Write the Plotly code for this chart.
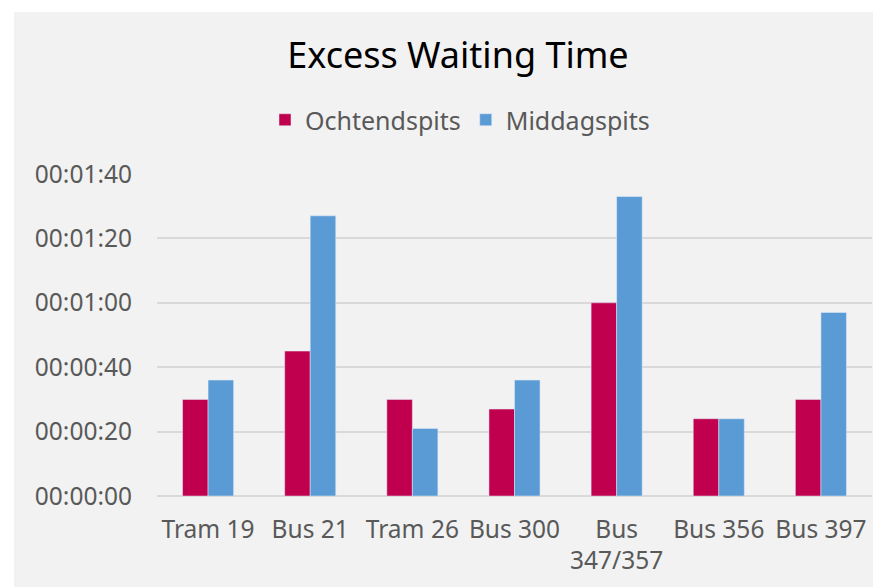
import plotly.graph_objects as go

# routes and excess waiting time in seconds
routes = ["Tram 19", "Bus 21", "Tram 26", "Bus 300", "Bus<br>347/357", "Bus 356", "Bus 397"]
ochtendspits = [30, 45, 30, 27, 60, 24, 30]
middagspits = [36, 87, 21, 36, 93, 24, 57]

tick_vals = [0, 20, 40, 60, 80, 100]
tick_text = ["00:00:00", "00:00:20", "00:00:40", "00:01:00", "00:01:20", "00:01:40"]

FONT = "Noto Sans"
GREY = "#595959"

fig = go.Figure()
fig.add_trace(go.Bar(x=routes, y=ochtendspits, name="Ochtendspits", marker_color="#C0004F"))
fig.add_trace(go.Bar(x=routes, y=middagspits, name="Middagspits", marker_color="#5B9BD5"))

# page body adds an 8px offset, so layout pixels are measured in figure space
W, H = 881, 587
L, R, T, B = 149, 17, 166, 99
pw, ph = W - L - R, H - T - B


def px_x(p):
    return (p - L) / pw


def px_y(p):
    return (H - B - p) / ph


# white strips at top and left, as in the exported chart image
fig.add_shape(type="rect", xref="paper", yref="paper", x0=px_x(-5), x1=px_x(W + 5),
              y0=px_y(4), y1=px_y(-5), fillcolor="white", line_width=0, layer="below")
fig.add_shape(type="rect", xref="paper", yref="paper", x0=px_x(-5), x1=px_x(6),
              y0=px_y(H + 5), y1=px_y(-5), fillcolor="white", line_width=0, layer="below")

fig.update_layout(
    width=W, height=H,
    margin=dict(l=L, r=R, t=T, b=B, pad=0),
    paper_bgcolor="#F2F2F2",
    plot_bgcolor="#F2F2F2",
    font=dict(family=FONT, color=GREY, size=24.5),
    title=dict(text="Excess Waiting Time", x=450 / W, xref="container", xanchor="center",
               y=1 - 47 / H, yref="container", yanchor="middle",
               font=dict(family=FONT, size=36, color="black")),
    legend=dict(orientation="h", x=px_x(452), xanchor="center", y=px_y(112), yanchor="middle",
                bgcolor="rgba(0,0,0,0)", font=dict(size=25, color=GREY), itemwidth=30),
    barmode="group",
    bargap=0.5,
    bargroupgap=0,
    showlegend=True,
)
fig.update_xaxes(showgrid=False, showline=False, tickangle=0, ticks="", ticklabelstandoff=16)
fig.update_yaxes(range=[0, 100], tickvals=tick_vals, ticktext=tick_text, showgrid=True,
                 gridcolor="#D9D9D9", gridwidth=1.5, zeroline=True, zerolinecolor="#D9D9D9",
                 zerolinewidth=1.5, ticks="", ticklabelstandoff=24)

# no scrollbars: the chart simply runs off the right and bottom edges of the window
fig.write_html(
    "out.html",
    post_script="document.documentElement.style.overflow = 'hidden';"
                "document.body.style.overflow = 'hidden';",
)
